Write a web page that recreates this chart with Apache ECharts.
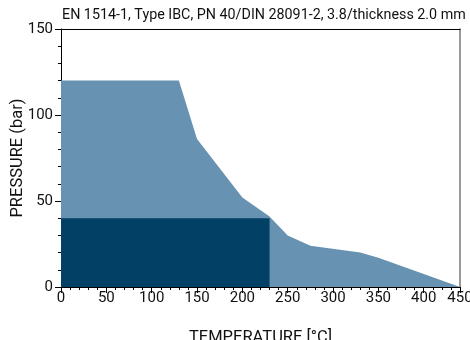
<!DOCTYPE html>
<html>
<head>
<meta charset="utf-8">
<script src="https://cdn.jsdelivr.net/npm/echarts@6/dist/echarts.min.js"></script>
<style>html,body{margin:0;padding:0;background:#fff}#c{width:470px;height:340px}</style>
</head>
<body>
<div id="c"></div>
<script>
var titleText = 'EN 1514-1, Type IBC, PN 40/DIN 28091-2, 3.8/thickness 2.0 mm';
var xName = 'TEMPERATURE [°C]';
var yName = 'PRESSURE (bar)';
// outer (light) envelope: temperature, pressure
var outerTemp = [0, 130, 150, 200, 230, 250, 275, 330, 350, 440];
var outerPress = [120, 120, 86, 52, 41, 30, 24, 20, 17, 0];
// inner (dark) block
var innerTemp = [0, 230];
var innerPress = [40, 40];
var xTickLabels = ['0', '50', '100', '150', '200', '250', '300', '350', '400', '450'];
var yTickLabels = ['0', '50', '100', '150'];

var font = 'Roboto';
function pairs(a, b) { return a.map(function (v, i) { return [v, b[i]]; }); }

var chart = echarts.init(document.getElementById('c'), null, { renderer: 'canvas' });
chart.setOption({
  animation: false,
  backgroundColor: '#fff',
  textStyle: { fontFamily: font },
  title: {
    text: titleText, left: 62, top: 8, padding: 0,
    textStyle: { fontFamily: font, fontSize: 14.3, fontWeight: 'normal', color: '#111' }
  },
  grid: { left: 61, right: 10, top: 29, bottom: 53, outerBoundsMode: 'none', containLabel: false },
  xAxis: [{
    type: 'value', min: 0, max: 440, interval: 50,
    name: xName, nameLocation: 'middle', nameGap: 42, nameMoveOverlap: false,
    nameTextStyle: { fontFamily: font, fontSize: 16.5, color: '#111' },
    axisLine: { show: true, lineStyle: { color: '#000', width: 1 } },
    axisTick: { show: true, length: 6, lineStyle: { color: '#000' } },
    minorTick: { show: true, splitNumber: 5, length: 3, lineStyle: { color: '#000' } },
    splitLine: { show: false },
    axisLabel: {
      margin: 4, fontSize: 15, color: '#111', fontFamily: font, showMaxLabel: true,
      formatter: function (v, i) { return xTickLabels[i]; }
    }
  }, {
    type: 'value', min: 0, max: 440, position: 'top',
    axisLine: { show: true, onZero: false, lineStyle: { color: '#000', width: 1 } },
    axisTick: { show: false }, axisLabel: { show: false }, splitLine: { show: false }
  }],
  yAxis: [{
    type: 'value', min: 0, max: 150, interval: 50,
    name: yName, nameLocation: 'middle', nameGap: 35, nameRotate: 90, nameMoveOverlap: false,
    nameTextStyle: { fontFamily: font, fontSize: 16.5, color: '#111' },
    axisLine: { show: true, lineStyle: { color: '#000', width: 1 } },
    axisTick: { show: true, length: 6, lineStyle: { color: '#000' } },
    minorTick: { show: true, splitNumber: 5, length: 3, lineStyle: { color: '#000' } },
    splitLine: { show: false },
    axisLabel: {
      margin: 8, fontSize: 15, color: '#111', fontFamily: font,
      formatter: function (v, i) { return yTickLabels[i]; }
    }
  }, {
    type: 'value', min: 0, max: 150, position: 'right',
    axisLine: { show: true, onZero: false, lineStyle: { color: '#777', width: 1.5 } },
    axisTick: { show: false }, axisLabel: { show: false }, splitLine: { show: false }
  }],
  series: [{
    type: 'line', data: pairs(outerTemp, outerPress),
    symbol: 'none', lineStyle: { width: 0 },
    areaStyle: { color: '#6792b2', opacity: 1 }, z: 1
  }, {
    type: 'line', data: pairs(innerTemp, innerPress),
    symbol: 'none', lineStyle: { width: 0 },
    areaStyle: { color: '#024066', opacity: 1 }, z: 2
  }]
});
</script>
</body>
</html>
